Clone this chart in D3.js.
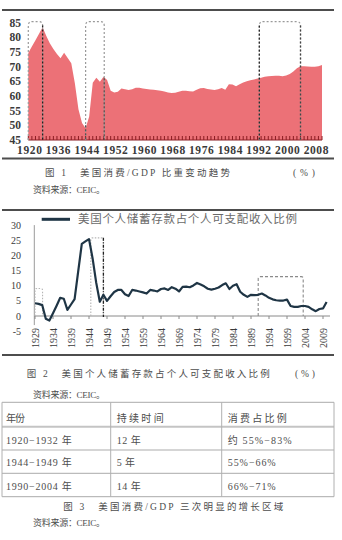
<!DOCTYPE html>
<html><head><meta charset="utf-8">
<script src="https://cdn.jsdelivr.net/npm/d3@7"></script>
<style>html,body{margin:0;padding:0;background:#fff;}svg{display:block;}</style>
</head><body>
<svg id="c" width="342" height="540"></svg>
<script>
// ---------- Data ----------
const consYears = d3.range(1928, 2011);
const consValues = [74.6,76.8,79,81.2,83.4,80.5,77.9,76,74.3,72.8,74.7,72.9,71.1,64.3,55.5,50.8,49,53,64.5,66.2,64.8,66.5,65.4,61.8,
 61.2,61.4,62.5,62.3,62,62.3,62.8,62.8,62.5,62.4,62.2,62.1,61.9,61.8,61.5,61.2,61,61.1,61.4,61.8,61.8,61.6,61.5,62.1,62.6,62.7,
 62.4,62.2,62,62.3,62.7,62.1,64,63.9,63.3,64,64.6,65,65.3,65.6,65.9,66.2,66.5,66.7,66.8,66.9,66.9,66.7,67,67.5,68.3,69.4,70.1,
 70.1,70,69.9,69.9,70.1,70.5];
const consTickYears = [1928,1936,1944,1952,1960,1968,1976,1984,1992,2000,2008];
const consTickLabels = ["1920","1936","1944","1952","1960","1968","1976","1984","1992","2000","2008"];
const consYTicks = [45,50,55,60,65,70,75,80,85];
const consBoxes = [[1928,1932],[1944,1949.2],[1992.5,2004]];

const saveYears = d3.range(1929, 2011);
const saveValues = [4.2,4.0,3.6,-0.9,-1.5,0.9,3.4,6.0,5.7,2.0,3.8,5.6,14.7,23.8,24.6,25.4,19,11,4.7,7.0,5.0,6.5,7.9,8.6,8.6,7.2,
 6.6,8.6,8.4,8.1,7.8,7.4,8.6,8.4,8.1,8.9,9.1,8.6,9.5,9.0,8.1,9.6,9.7,9.5,10.1,10.9,10.4,9.8,9.0,8.7,9.0,9.4,10.2,10.8,8.9,10.0,
 10.5,8.0,7.0,6.3,7.0,6.9,7.0,7.4,6.8,6.0,5.5,5.2,5.1,5.1,5.4,3.3,3.0,3.0,3.3,3.3,3.0,2.2,1.6,2.3,2.5,4.6];
const saveTickYears = d3.range(1929, 2010, 5);
const saveYTicks = [-5,0,5,10,15,20,25,30];
const saveBoxes = [[1929,1931.1,9.1],[1944.5,1948,25.8],[1991,2003.5,13]];
const saveLegend = "美国个人储蓄存款占个人可支配收入比例";

const tableHeader = ["年份","持续时间","消费占比例"];
const tablePeriods = ["1920−1932 年","1944−1949 年","1990−2004 年"];
const tableDurations = ["12 年","5 年","14 年"];
const tableShares = ["约 55%−83%","55%−66%","66%−71%"];

// ---------- Drawing ----------
const svg = d3.select("#c");
const FONT = "'Liberation Serif','Noto Sans CJK SC',serif";
const txtCol = "#4d4d4d";

function rule(y, w){ svg.append("line").attr("x1",2).attr("x2",334).attr("y1",y).attr("y2",y).attr("stroke","#4d4d4d").attr("stroke-width",w); }
function boxPath(x0,x1,yt,yb,r){
  return `M${x0},${yb}V${yt+r}Q${x0},${yt} ${x0+r},${yt}H${x1-r}Q${x1},${yt} ${x1},${yt+r}V${yb}`;
}
function sideLine(g,x,yt,yb,col,dash){
  g.append("line").attr("x1",x).attr("x2",x).attr("y1",yt).attr("y2",yb).attr("stroke",col).attr("stroke-width",1.3).attr("stroke-dasharray",dash);
}

// Chart 1
rule(10,2); rule(158.5,2);
const x1 = d3.scaleLinear().domain([1928,2010]).range([28.3,322]);
const y1 = d3.scaleLinear().domain([45,85]).range([140,22.5]);
const g1 = svg.append("g");
g1.append("path").datum(consYears.map((yr,i)=>[yr,consValues[i]]))
  .attr("fill","#ec7177")
  .attr("d", d3.area().x(d=>x1(d[0])).y0(y1(45)).y1(d=>y1(d[1])));
g1.selectAll(".yt").data(consYears).join("line")
  .attr("x1",d=>x1(d)).attr("x2",d=>x1(d)).attr("y1",y1(45)-4).attr("y2",y1(45))
  .attr("stroke","#8a1c22").attr("stroke-width",1);
g1.append("line").attr("x1",x1(1928)).attr("x2",x1(2010)).attr("y1",y1(45)).attr("y2",y1(45)).attr("stroke","#8a1c22").attr("stroke-width",1);
consBoxes.forEach((b,i)=>{
  const xa=x1(b[0]), xb=x1(b[1]), yt=y1(85.3), yb=y1(45);
  g1.append("path").attr("d",boxPath(xa,xb,yt,yb,4)).attr("fill","none").attr("stroke","#9a9a9a").attr("stroke-width",1.2).attr("stroke-dasharray","2,2");
  if(i===0){ sideLine(g1,xb,yt+4,yb,"#222","2,2"); }
  if(i===1){ sideLine(g1,xa,y1(50),yb,"#555","2,2"); sideLine(g1,xb,y1(66),yb,"#555","2,2"); }
  if(i===2){ sideLine(g1,xa,yt+4,yb,"#2a2a2a","2,2"); sideLine(g1,xb,yt+4,yb,"#444","2,2"); }
});
g1.selectAll(".yl").data(consYTicks).join("text")
  .attr("x",21).attr("y",d=>y1(d)).attr("dy","0.35em").attr("text-anchor","end")
  .attr("font-family",FONT).attr("font-size",11.5).attr("font-weight","bold").attr("fill","#3a3a3a").text(d=>d);
g1.selectAll(".xl").data(consTickYears).join("text")
  .attr("x",(d)=>x1(d)+1.5).attr("y",153.5).attr("text-anchor","middle")
  .attr("font-family",FONT).attr("font-size",11.5).attr("font-weight","bold").attr("fill","#3a3a3a").attr("letter-spacing",0.6)
  .text((d,i)=>consTickLabels[i]);

function cap(t,x,y,len,size){ svg.append("text").attr("x",x).attr("y",y).attr("dy","0.35em").attr("font-family",FONT).attr("font-size",size||9.5)
  .attr("fill",txtCol).attr("textLength",len).attr("lengthAdjust","spacing").text(t); }
cap("图 1　美国消费/GDP 比重变动趋势",45,173,185);
cap("(%)",293,173,22);
cap("资料来源：CEIC。",33,190,72,9);

// Chart 2
rule(210,2); rule(355,2);
const x2 = d3.scaleLinear().domain([1929,2010]).range([35,326.6]);
const y2 = d3.scaleLinear().domain([-5,30]).range([331.15,225.1]);
const g2 = svg.append("g");
g2.append("line").attr("x1",34.3).attr("x2",34.3).attr("y1",y2(30)).attr("y2",y2(-3)).attr("stroke","#9a9a9a");
g2.append("line").attr("x1",34.3).attr("x2",330).attr("y1",y2(0)).attr("y2",y2(0)).attr("stroke","#8a8a8a");
g2.selectAll(".xt").data(saveTickYears).join("line")
  .attr("x1",d=>x2(d)).attr("x2",d=>x2(d)).attr("y1",y2(0)).attr("y2",y2(0)+3).attr("stroke","#8a8a8a");
saveBoxes.forEach((b,i)=>{
  const xa=x2(b[0]), xb=x2(b[1]), yt=y2(b[2]), yb=y2(0);
  g2.append("path").attr("d",boxPath(xa,xb,yt,yb,2)).attr("fill","none")
    .attr("stroke", i===2?"#8a8a8a":"#b5b5b5").attr("stroke-width",1.1).attr("stroke-dasharray",i===2?"3,2":"1.5,1.5");
  if(i===1){ sideLine(g2,xb,yt,yb+1,"#222","3,1.5,1,1.5"); }
});
g2.append("path").datum(saveYears.map((yr,i)=>[yr,saveValues[i]]))
  .attr("fill","none").attr("stroke","#1f3545").attr("stroke-width",2.2).attr("stroke-linejoin","round")
  .attr("d", d3.line().x(d=>x2(d[0])).y(d=>y2(d[1])));
g2.selectAll(".yl").data(saveYTicks).join("text")
  .attr("x",21).attr("y",d=>y2(d)).attr("dy","0.35em").attr("text-anchor","end")
  .attr("font-family",FONT).attr("font-size",10).attr("fill","#3a3a3a").text(d=>d);
g2.selectAll(".xl").data(saveTickYears).join("text")
  .attr("transform",d=>`translate(${x2(d)},348) rotate(-90)`).attr("dy","0.35em")
  .attr("font-family",FONT).attr("font-size",10).attr("fill","#3a3a3a").text(d=>d);
g2.append("line").attr("x1",41.7).attr("x2",70).attr("y1",219.3).attr("y2",219.3).attr("stroke","#1f3545").attr("stroke-width",3);
g2.append("text").attr("x",78).attr("y",219.3).attr("dy","0.35em").attr("font-family",FONT).attr("font-size",11.5)
  .attr("fill","#6a6a6a").attr("textLength",219).attr("lengthAdjust","spacing").text(saveLegend);

cap("图 2　美国个人储蓄存款占个人可支配收入比例",26.7,373.3,243);
cap("(%)",295,373.3,20);
cap("资料来源：CEIC。",33,395,72,9);

// Table
const tg = svg.append("g");
const rowLines = [402.3,426.7,450,473.3,496.7];
rowLines.forEach((y,i)=>tg.append("line").attr("x1",2).attr("x2",334).attr("y1",y).attr("y2",y)
  .attr("stroke",i===1?"#c4c4c4":"#ababab").attr("stroke-width",i===1?2:1));
[2,110.7,221.7,334].forEach(x=>tg.append("line").attr("x1",x).attr("x2",x).attr("y1",402.3).attr("y2",496.7).attr("stroke","#b0b0b0"));
const colX = [6,116.7,227.7];
const rowY = [418.3,440.7,462.7,486];
const hdrLen = [19,47,59];
tableHeader.forEach((t,i)=>cap(t,colX[i],rowY[0],hdrLen[i],10));
tablePeriods.forEach((t,i)=>cap(t,colX[0],rowY[i+1],65.7,10));
tableDurations.forEach((t,i)=>cap(t,colX[1],rowY[i+1],t.length>3?24:18.3,10));
tableShares.forEach((t,i)=>cap(t,colX[2],rowY[i+1],i===0?64:48,10));

cap("图 3　美国消费/GDP 三次明显的增长区域",63.3,506.7,220);
cap("资料来源：CEIC。",33,523.3,72,9);
</script>
</body></html>
